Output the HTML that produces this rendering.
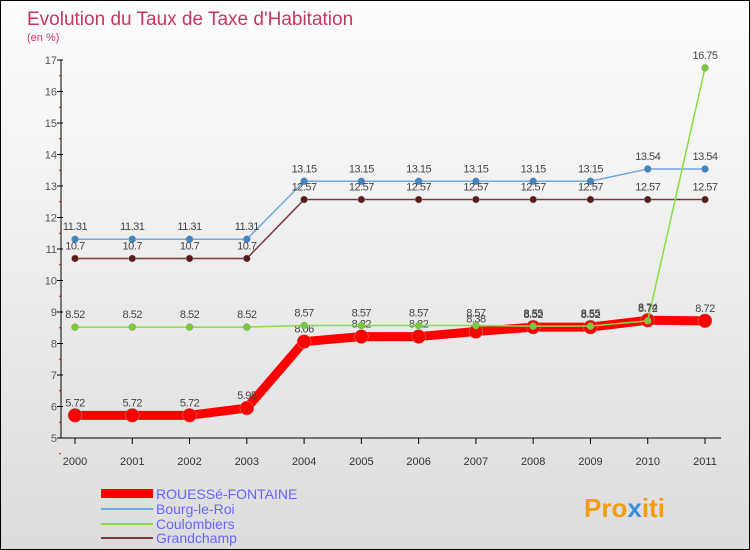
<!DOCTYPE html>
<html><head><meta charset="utf-8"><style>
body{margin:0}
#c{width:750px;height:550px;position:relative;background:linear-gradient(#fdfdfd,#dcdcdc);border:1px solid #000;box-sizing:border-box;font-family:"Liberation Sans",sans-serif;overflow:hidden}
</style></head><body>
<div id="c">
<svg id="s" width="748" height="548">
<text x="26" y="24" font-size="19" fill="#c8365f">Evolution du Taux de Taxe d'Habitation</text>
<text x="26" y="40" font-size="11" fill="#c8365f">(en %)</text>
<g id="ax"></g><g id="series"></g>
<g>
<rect x="100" y="488" width="52" height="9" fill="#f00"/>
<text x="155" y="498" font-size="14" fill="#6666ff">ROUESSé-FONTAINE</text>
<line x1="100" y1="508" x2="152" y2="508" stroke="#6fa8dc" stroke-width="2"/>
<text x="155" y="513" font-size="14" fill="#6666ff">Bourg-le-Roi</text>
<line x1="100" y1="523" x2="152" y2="523" stroke="#88dd44" stroke-width="2"/>
<text x="155" y="528" font-size="14" fill="#6666ff">Coulombiers</text>
<line x1="100" y1="537" x2="152" y2="537" stroke="#7a3a3a" stroke-width="2"/>
<text x="155" y="542" font-size="14" fill="#6666ff">Grandchamp</text>
</g>
<text x="583" y="516" font-size="26" font-weight="bold" fill="#f39c12">Pro<tspan fill="#3a8fd6">x</tspan>iti</text>
</svg>
</div>
<script>
const years=[2000,2001,2002,2003,2004,2005,2006,2007,2008,2009,2010,2011];
const yTicks=[5,6,7,8,9,10,11,12,13,14,15,16,17];
const rouesse=[5.72,5.72,5.72,5.95,8.06,8.22,8.22,8.38,8.52,8.52,8.74,8.72];
const bourg=[11.31,11.31,11.31,11.31,13.15,13.15,13.15,13.15,13.15,13.15,13.54,13.54];
const coulombiers=[8.52,8.52,8.52,8.52,8.57,8.57,8.57,8.57,8.55,8.55,8.72,16.75];
const grandchamp=[10.7,10.7,10.7,10.7,12.57,12.57,12.57,12.57,12.57,12.57,12.57,12.57];
const NS="http://www.w3.org/2000/svg";
const X=i=>74+i*(630/11);
const Y=v=>437-(v-5)*31.5;
function mk(t,a,p){const e=document.createElementNS(NS,t);for(const k in a)e.setAttribute(k,a[k]);p.appendChild(e);return e;}
const ax=document.getElementById('ax');
let l=mk('line',{x1:60,y1:Y(17),x2:60,y2:Y(5),stroke:'#000'},ax);


yTicks.forEach(v=>{
 const t=mk('text',{x:56,y:Y(v)+4,'font-size':11,fill:'#555','text-anchor':'end'},ax);t.textContent=v;
 
 
 mk('line',{x1:56,y1:Y(v),x2:62,y2:Y(v),stroke:'#000'},ax);
 mk('line',{x1:58,y1:Y(v)+15.75,x2:60,y2:Y(v)+15.75,stroke:'#d00'},ax);
});
l=mk('line',{x1:60,y1:Y(5),x2:720,y2:Y(5),stroke:'#000'},ax);


years.forEach((y,i)=>{
 const t=mk('text',{x:X(i),y:Y(5)+27,'font-size':11,fill:'#333','text-anchor':'middle'},ax);t.textContent=y;
 
 
 mk('line',{x1:X(i),y1:Y(5),x2:X(i),y2:Y(5)+6,stroke:'#000'},ax);
});
const sg=document.getElementById('series');
function draw(vals,color,w,r,dot,name){
 const g=mk('g',{},sg);
 
 
 const p=mk('polyline',{points:vals.map((v,i)=>X(i)+','+Y(v)).join(' '),fill:'none',stroke:color,'stroke-width':w,'stroke-linejoin':'round'},g);
 
 
 vals.forEach((v,i)=>{
  const c=mk('circle',{cx:X(i),cy:Y(v),r:r,fill:dot,stroke:'#999','stroke-width':0.5},g);
  
  
  const t=mk('text',{x:X(i),y:Y(v)-9,'font-size':11,fill:'#444','text-anchor':'middle','letter-spacing':'-0.5'},g);t.textContent=v;
  
  
 });
}
draw(bourg,'#6fa8dc',1.5,3.5,'#3d85c6','bourg');
draw(grandchamp,'#7a3a3a',1.5,3.5,'#5b1a1a','grandchamp');
draw(rouesse,'#f00',9,7,'#f00','rouesse');
draw(coulombiers,'#88dd44',1.5,3.5,'#77cc33','coulombiers');
</script>
</body></html>
